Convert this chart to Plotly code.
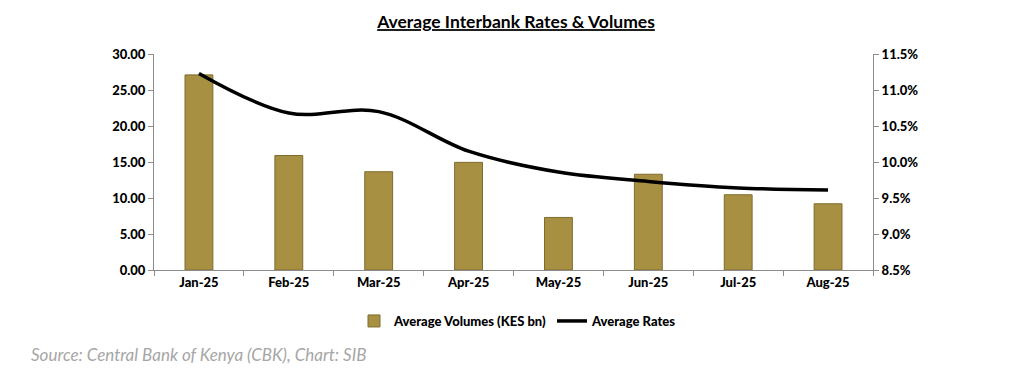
import plotly.graph_objects as go

months = ["Jan-25", "Feb-25", "Mar-25", "Apr-25", "May-25", "Jun-25", "Jul-25", "Aug-25"]
volumes = [27.1, 15.9, 13.65, 14.95, 7.3, 13.3, 10.45, 9.2]
rates = [11.23, 10.68, 10.70, 10.15, 9.86, 9.73, 9.64, 9.61]

FONT = "Lato"
BOLD = "Lato Black"
W, H = 1016, 383
L, R, T, B = 146, 151, 46, 121
PW, PH = W - L - R, H - T - B

fig = go.Figure()
fig.add_trace(go.Bar(
    x=months, y=volumes, name="Average Volumes (KES bn)",
    marker=dict(color="#A89043", line=dict(color="#7E6B2E", width=1)),
    width=0.31,
))
fig.add_trace(go.Scatter(
    x=months, y=rates, name="Average Rates", yaxis="y2",
    mode="lines", line=dict(color="black", width=3.5, shape="spline", smoothing=1.0),
))

axis_common = dict(showline=True, linecolor="#8c8c8c", linewidth=1, ticks="outside",
                   ticklen=5, tickcolor="#8c8c8c", showgrid=False, zeroline=False,
                   tickfont=dict(size=13, family=BOLD))

fig.update_layout(
    width=W, height=H,
    margin=dict(l=L, r=R, t=T, b=B, autoexpand=False),
    paper_bgcolor="white", plot_bgcolor="white",
    font=dict(family=FONT, color="black", size=13),
    title=dict(text="<b><u>Average Interbank Rates & Volumes</u></b>",
               x=0.5, xanchor="center", y=1 - 14 / H, yanchor="middle",
               font=dict(size=17.5, family=FONT)),
    xaxis=dict(tickson="boundaries", **axis_common),
    yaxis=dict(range=[0, 30], dtick=5, tickformat=".2f", **axis_common),
    yaxis2=dict(range=[8.5, 11.5], dtick=0.5, tickformat=".1f", ticksuffix="%",
                overlaying="y", side="right", **axis_common),
    legend=dict(orientation="h", x=(518 - 8 - L) / PW, xanchor="center",
                y=(262 - 313) / PH, yanchor="middle",
                font=dict(size=13, family=BOLD), traceorder="normal"),
    bargap=0.69,
)
fig.add_annotation(text="<i>Source: Central Bank of Kenya (CBK), Chart: SIB</i>",
                   xref="paper", yref="paper", x=(21 - L) / PW, y=(262 - 346) / PH,
                   xanchor="left", yanchor="middle", showarrow=False,
                   font=dict(size=17, color="#A6A6A6", family=FONT))

fig.write_html("out.html")
